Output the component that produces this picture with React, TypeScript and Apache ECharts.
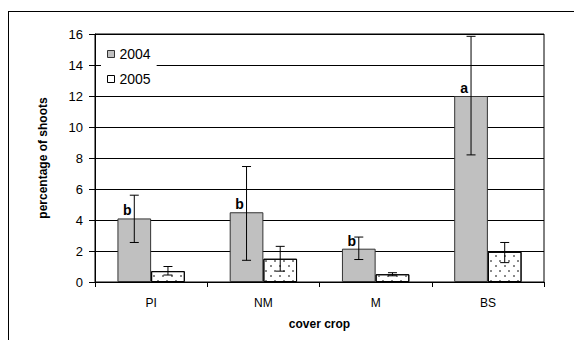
import React, { useEffect, useRef } from "react";
import * as echarts from "echarts";

const categories = ["PI", "NM", "M", "BS"];
const values2004 = [4.1, 4.5, 2.15, 12.0];
const values2005 = [0.7, 1.5, 0.5, 1.95];
const errLow2004 = [2.55, 1.4, 1.45, 8.2];
const errHigh2004 = [5.6, 7.45, 2.9, 15.85];
const errLow2005 = [0.45, 0.7, 0.4, 1.25];
const errHigh2005 = [1.0, 2.3, 0.6, 2.55];
const letters2004 = ["b", "b", "b", "a"];
const yTicks = { min: 0, max: 16, interval: 2 };

const FONT = "'Liberation Sans', Arial, sans-serif";

export default function App() {
  const ref = useRef<HTMLDivElement>(null);
  useEffect(() => {
    if (!ref.current) return;
    const chart = echarts.init(ref.current, null, { renderer: "svg" });
    const errData: any[] = [];
    categories.forEach((_, i) => {
      errData.push([i, errLow2004[i], errHigh2004[i], 0]);
      errData.push([i, errLow2005[i], errHigh2005[i], 1]);
    });
    chart.setOption({
      animation: false,
      textStyle: { fontFamily: FONT },
      grid: {
        left: 95,
        top: 34,
        right: 30,
        bottom: 58,
        show: true,
        borderColor: "#000",
        borderWidth: 1,
      },
      legend: {
        orient: "vertical",
        left: 101,
        top: 44,
        itemWidth: 7,
        itemHeight: 7,
        itemGap: 11,
        backgroundColor: "#fff",
        padding: [3, 6, 3, 6],
        textStyle: { fontSize: 14, color: "#000", fontFamily: FONT },
        data: [
          {
            name: "2004",
            icon: "rect",
            itemStyle: { color: "#c0c0c0", borderColor: "#333", borderWidth: 1 },
          },
          {
            name: "2005",
            icon: "rect",
            itemStyle: { color: "#fff", borderColor: "#000", borderWidth: 1, decal: "none" },
          },
        ],
      },
      xAxis: {
        type: "category",
        data: categories,
        name: "cover crop",
        nameLocation: "middle",
        nameGap: 36,
        nameTextStyle: { fontSize: 12, fontWeight: "bold", color: "#000", fontFamily: FONT },
        axisLine: { lineStyle: { color: "#000", width: 1 } },
        axisTick: { show: true, length: 5, lineStyle: { color: "#000" } },
        axisLabel: { fontSize: 12, color: "#000", margin: 15, fontFamily: FONT },
        splitLine: { show: false },
      },
      yAxis: {
        type: "value",
        min: yTicks.min,
        max: yTicks.max,
        interval: yTicks.interval,
        name: "percentage of shoots",
        nameLocation: "middle",
        nameGap: 46,
        nameTextStyle: { fontSize: 12, fontWeight: "bold", color: "#000", fontFamily: FONT },
        axisLine: { show: true, lineStyle: { color: "#000", width: 1 } },
        axisTick: { show: true, length: 6, lineStyle: { color: "#000" } },
        axisLabel: { fontSize: 13, color: "#000", margin: 12, fontFamily: FONT },
        splitLine: { show: true, lineStyle: { color: "#000", width: 1 } },
      },
      graphic: [
        { type: "line", shape: { x1: 8.5, y1: 11, x2: 8.5, y2: 340 }, style: { stroke: "#000", lineWidth: 1 } },
        { type: "line", shape: { x1: 8, y1: 11.5, x2: 574, y2: 11.5 }, style: { stroke: "#000", lineWidth: 1 } },
      ],
      series: [
        {
          name: "2004",
          type: "bar",
          data: values2004,
          barCategoryGap: "40%",
          barGap: "0%",
          itemStyle: { color: "#c0c0c0", borderColor: "#333", borderWidth: 1 },
          label: {
            show: true,
            position: "top",
            distance: 1,
            offset: [-7, 0],
            fontSize: 14,
            fontWeight: "bold",
            color: "#000",
            fontFamily: FONT,
            formatter: (p: any) => letters2004[p.dataIndex],
          },
        },
        {
          name: "2005",
          type: "bar",
          data: values2005,
          barCategoryGap: "40%",
          barGap: "0%",
          itemStyle: {
            color: "#fff",
            borderColor: "#000",
            borderWidth: 1,
            decal: {
              symbol: "rect",
              symbolSize: 1,
              color: "#888",
              dashArrayX: [
                [1.5, 6.5],
                [0, 4, 1.5, 2.5],
              ],
              dashArrayY: [1.5, 3],
            },
          },
        },
        {
          type: "custom",
          z: 10,
          data: errData,
          renderItem: (params: any, api: any) => {
            const i = api.value(0);
            const s = api.value(3);
            const catW = api.size([1, 0])[0];
            const cx = api.coord([i, 0])[0] + (s === 0 ? -0.15 : 0.15) * catW;
            const yl = api.coord([i, api.value(1)])[1];
            const yh = api.coord([i, api.value(2)])[1];
            const hw = 4.5;
            const st = { stroke: "#000", lineWidth: 1 };
            return {
              type: "group",
              children: [
                { type: "line", shape: { x1: cx, y1: yl, x2: cx, y2: yh }, style: st },
                { type: "line", shape: { x1: cx - hw, y1: yl, x2: cx + hw, y2: yl }, style: st },
                { type: "line", shape: { x1: cx - hw, y1: yh, x2: cx + hw, y2: yh }, style: st },
              ],
            };
          },
        },
      ],
    });
    return () => chart.dispose();
  }, []);
  return <div ref={ref} style={{ width: 574, height: 340, position: "absolute", left: 0, top: 0 }} />;
}
